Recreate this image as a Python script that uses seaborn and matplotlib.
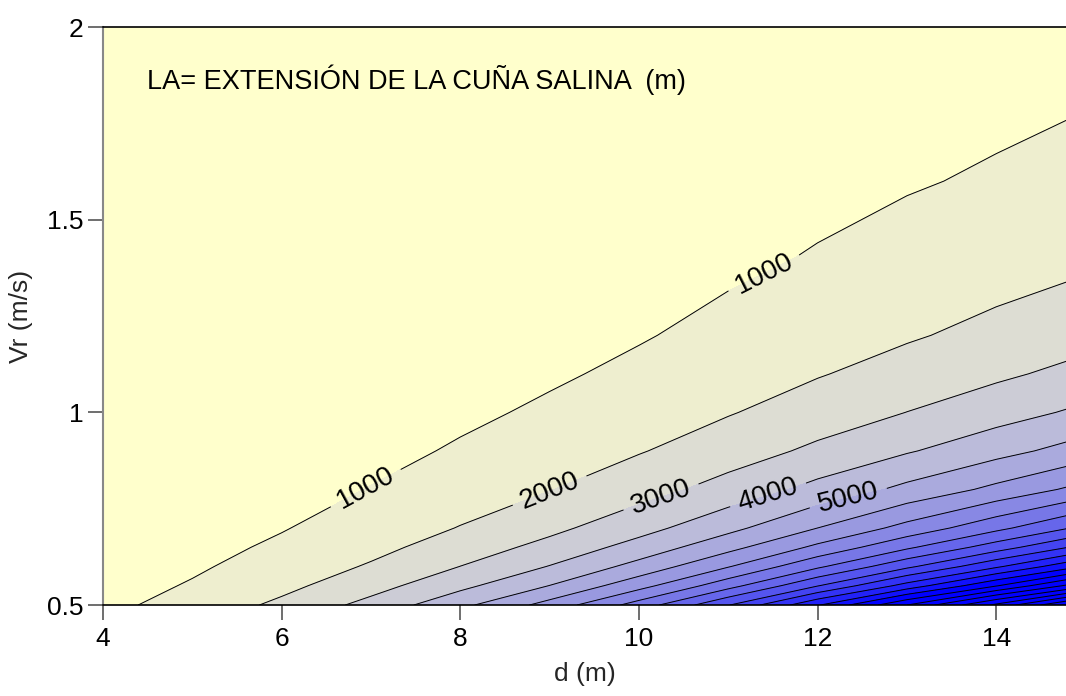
import numpy as np
import matplotlib
matplotlib.use("Agg")
import matplotlib.pyplot as plt
import seaborn as sns

# grid: d (m) columns, Vr (m/s) rows, LA (m) values
d_vals = [4, 5, 6, 7, 8, 9, 10, 11, 12, 13, 14, 15]
vr_vals = [0.5, 0.55, 0.6, 0.65, 0.7, 0.8, 0.9, 1.0, 1.1, 1.2, 1.4, 1.6, 1.8, 2.0]

la_vr050 = [760, 1370, 2210, 3320, 4740, 6370, 8430, 10950, 13910, 17000, 20230, 23800]
la_vr055 = [600, 1080, 1740, 2620, 3740, 5020, 6640, 8630, 10960, 13400, 15940, 18750]
la_vr060 = [480, 870, 1400, 2100, 3010, 4040, 5340, 6940, 8820, 10780, 12830, 15090]
la_vr065 = [390, 710, 1150, 1720, 2460, 3310, 4380, 5680, 7220, 8820, 10500, 12350]
la_vr070 = [330, 590, 950, 1430, 2040, 2750, 3640, 4720, 6000, 7330, 8720, 10260]
la_vr080 = [230, 420, 680, 1030, 1460, 1970, 2600, 3380, 4300, 5250, 6250, 7350]
la_vr090 = [175, 315, 510, 760, 1090, 1470, 1940, 2520, 3200, 3910, 4650, 5470]
la_vr100 = [130, 240, 390, 590, 840, 1130, 1490, 1940, 2460, 3010, 3580, 4210]
la_vr110 = [110, 190, 310, 460, 660, 890, 1170, 1530, 1940, 2370, 2820, 3320]
la_vr120 = [85, 150, 250, 370, 530, 710, 940, 1230, 1560, 1900, 2270, 2670]
la_vr140 = [60, 100, 170, 250, 360, 490, 640, 830, 1060, 1300, 1540, 1810]
la_vr160 = [40, 70, 120, 180, 260, 350, 460, 600, 760, 930, 1100, 1300]
la_vr180 = [30, 60, 90, 140, 190, 260, 340, 450, 570, 690, 820, 970]
la_vr200 = [20, 40, 70, 100, 150, 200, 260, 340, 430, 530, 630, 740]

levels = np.arange(0, 27000, 1000)
label_levels = [1000, 2000, 3000, 4000, 5000]

sns.set_theme(style="white")
plt.rcParams['font.family'] = ['Liberation Sans', 'DejaVu Sans']

la = np.array([la_vr050, la_vr055, la_vr060, la_vr065, la_vr070, la_vr080, la_vr090,
               la_vr100, la_vr110, la_vr120, la_vr140, la_vr160, la_vr180, la_vr200])
D, VR = np.meshgrid(d_vals, vr_vals)

# yellow -> blue, saturating at 15000
ramp = sns.blend_palette(['#FFFFCC', '#0000FF'], n_colors=16)
band_colors = [ramp[min(k, 15)] for k in range(len(levels) - 1)]

fig = plt.figure(figsize=(10.66, 6.96), dpi=100)
ax = fig.add_axes([0.0966, 0.1307, 0.9034, 0.8305])

ax.contourf(D, VR, la, levels=levels, colors=band_colors)
cs = ax.contour(D, VR, la, levels=levels[1:], colors='black', linewidths=0.7)
ax.clabel(cs, levels=label_levels, fmt='%d', fontsize=20, inline=True, inline_spacing=8,
          manual=[(6.95, 0.80), (11.41, 1.356), (8.98, 0.81), (10.24, 0.785),
                  (11.44, 0.79), (12.34, 0.78)])

ax.text(4.49, 1.862, "LA= EXTENSIÓN DE LA CUÑA SALINA  (m)", fontsize=19.5,
        va='center', ha='left', color='black')

ax.set_xlim(4, 14.78)
ax.set_ylim(0.5, 2)
ax.set_xticks([4, 6, 8, 10, 12, 14])
ax.set_yticks([0.5, 1, 1.5, 2])
ax.set_yticklabels(['0.5', '1', '1.5', '2'])
ax.tick_params(axis='both', direction='out', length=11, width=1.2, color='#555555',
               labelsize=19, labelcolor='black', pad=3)
ax.tick_params(axis='y', left=True)
ax.tick_params(axis='x', bottom=True, pad=5)

ax.set_xlabel('d (m)', fontsize=19, labelpad=8)
ax.set_ylabel('Vr (m/s)', fontsize=19, labelpad=10)

for side in ['top', 'bottom']:
    ax.spines[side].set_color('black')
    ax.spines[side].set_linewidth(1.2)
ax.spines['left'].set_color('#888888')
ax.spines['left'].set_linewidth(1.5)
ax.spines['right'].set_visible(False)

fig.savefig('out.png', dpi=100)
